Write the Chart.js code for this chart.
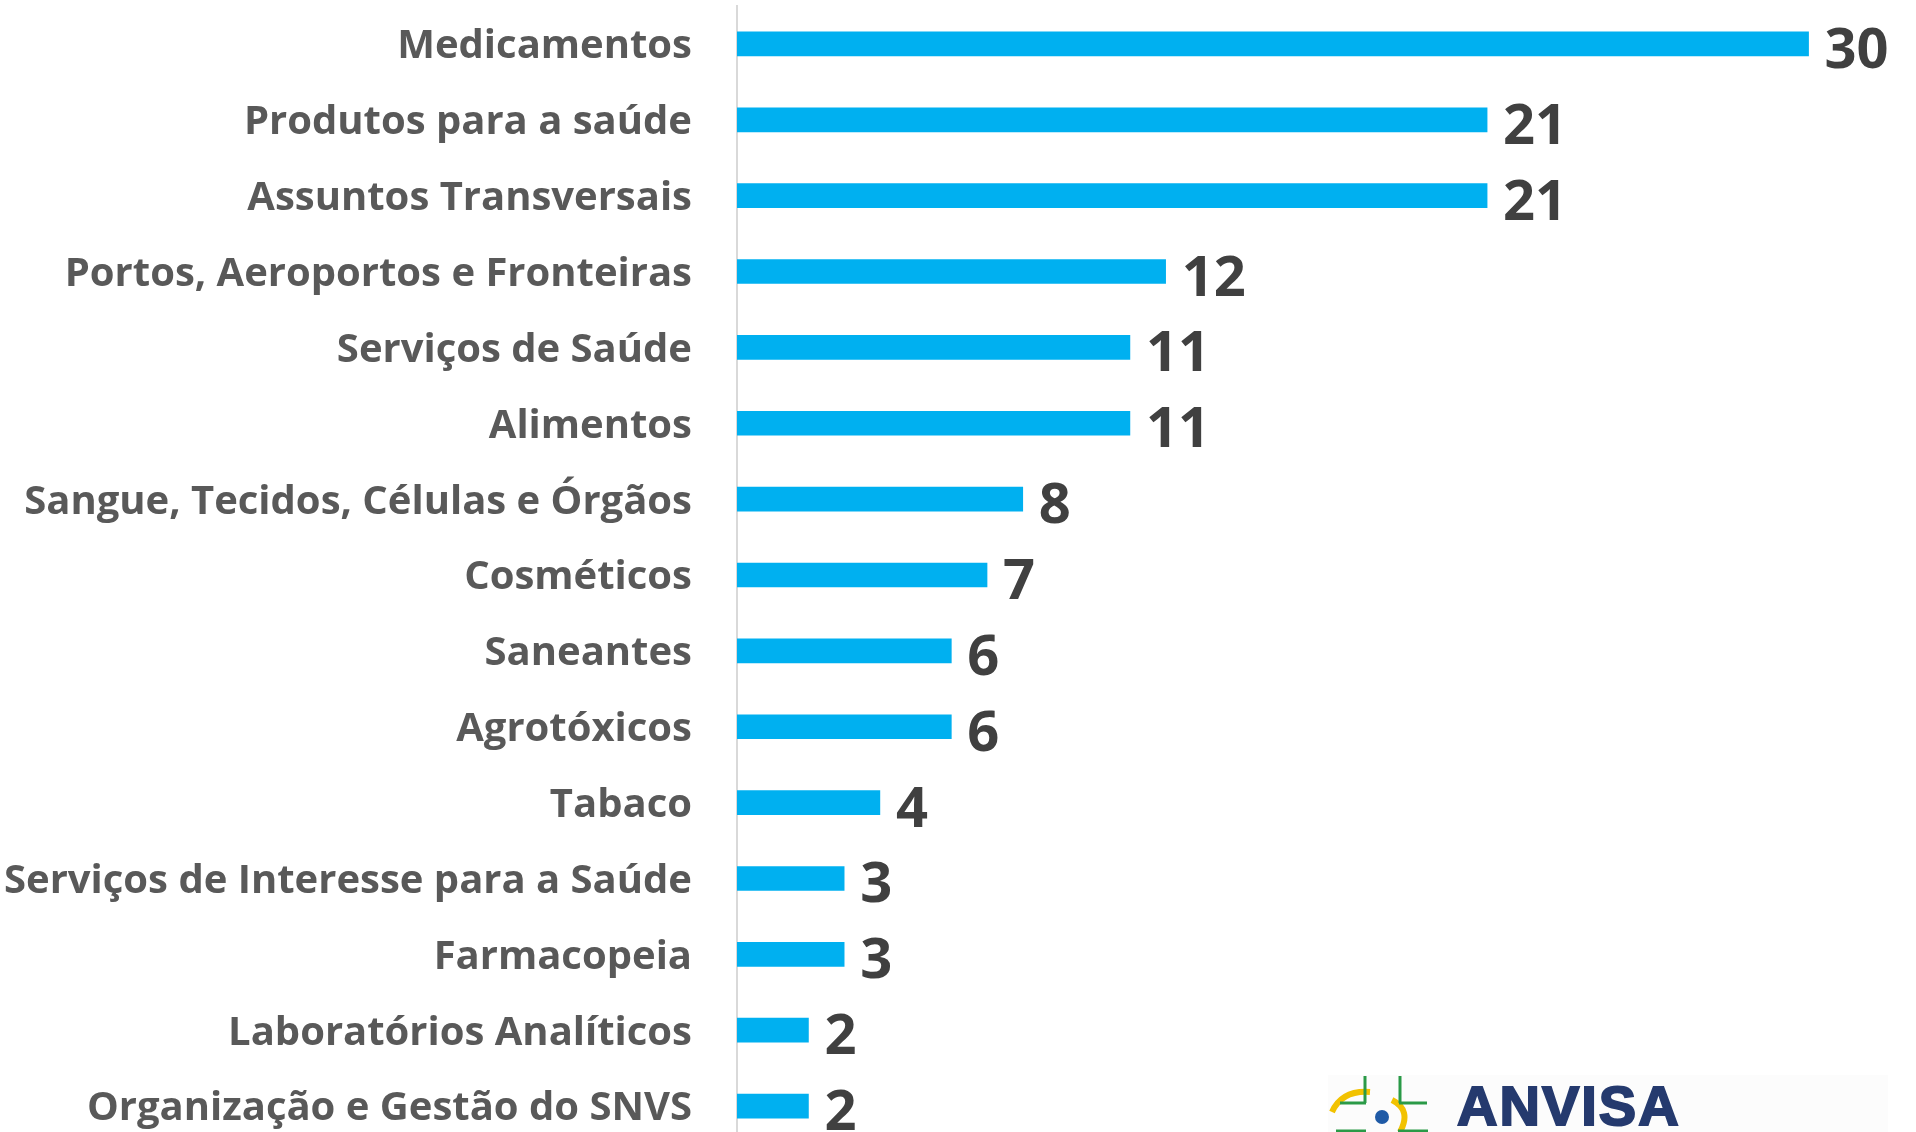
<!DOCTYPE html>
<html>
<head>
<meta charset="utf-8">
<script src="https://cdn.jsdelivr.net/npm/chart.js@4.4.0/dist/chart.umd.min.js"></script>
<style>
  html, body { margin: 0; padding: 0; background: #fff; overflow: hidden; }
  #wrap { position: relative; width: 1916px; height: 1132px; overflow: hidden; }
  #chart { position: absolute; left: 0; top: 0; }
  #logoBox { position: absolute; left: 1328px; top: 1075px; width: 560px; height: 57px; background: #fcfcfc; }
  #logoText { position: absolute; left: 1457px; top: 1073px; font: bold 56px "Liberation Sans", Arial, sans-serif; color: #253a6e; letter-spacing: 2px; -webkit-text-stroke: 2px #253a6e; }
  #logoMark { position: absolute; left: 1320px; top: 1060px; }
</style>
</head>
<body>
<div id="wrap">
  <canvas id="chart" width="1916" height="1150"></canvas>
  <div id="logoBox"></div>
  <svg id="logoMark" width="120" height="72" viewBox="0 0 120 72">
    <path d="M12 52 Q22 30 50 32" stroke="#f2c200" stroke-width="6" fill="none"/>
    <path d="M72 40 Q92 50 80 72" stroke="#f2c200" stroke-width="6" fill="none"/>
    <line x1="45" y1="16" x2="45" y2="43" stroke="#2a9a47" stroke-width="3"/>
    <line x1="80" y1="16" x2="80" y2="43" stroke="#2a9a47" stroke-width="3"/>
    <line x1="20" y1="43" x2="46" y2="43" stroke="#2a9a47" stroke-width="3"/>
    <line x1="79" y1="43" x2="107" y2="43" stroke="#2a9a47" stroke-width="3"/>
    <line x1="16" y1="71" x2="46" y2="71" stroke="#2a9a47" stroke-width="3"/>
    <line x1="78" y1="71" x2="108" y2="71" stroke="#2a9a47" stroke-width="3"/>
    <circle cx="62" cy="57" r="7" fill="#1f5aa6"/>
  </svg>
  <div id="logoText">ANVISA</div>
</div>
<script>
const categories = [
  'Medicamentos',
  'Produtos para a saúde',
  'Assuntos Transversais',
  'Portos, Aeroportos e Fronteiras',
  'Serviços de Saúde',
  'Alimentos',
  'Sangue, Tecidos, Células e Órgãos',
  'Cosméticos',
  'Saneantes',
  'Agrotóxicos',
  'Tabaco',
  'Serviços de Interesse para a Saúde',
  'Farmacopeia',
  'Laboratórios Analíticos',
  'Organização e Gestão do SNVS',
];
const values = [30, 21, 21, 12, 11, 11, 8, 7, 6, 6, 4, 3, 3, 2, 2];
const xRange = [0, 32];

// numbers at the end of each bar
const valueLabels = {
  id: 'valueLabels',
  afterDatasetsDraw(chart) {
    const ctx = chart.ctx;
    const meta = chart.getDatasetMeta(0);
    ctx.save();
    ctx.font = 'bold 56px "Open Sans"';
    ctx.fillStyle = '#404040';
    ctx.textAlign = 'left';
    ctx.textBaseline = 'alphabetic';
    meta.data.forEach((bar, i) => {
      ctx.fillText(values[i], bar.x + 16, bar.y + 24);
    });
    ctx.restore();
  },
};

const chart = new Chart(document.getElementById('chart'), {
  type: 'bar',
  data: {
    labels: categories,
    datasets: [
      {
        data: values,
        backgroundColor: '#00b0f0',
        barThickness: 24,
      },
    ],
  },
  options: {
    indexAxis: 'y',
    responsive: false,
    animation: false,
    layout: { padding: { top: 6, right: 36, bottom: 6, left: 0 } },
    plugins: {
      legend: { display: false },
      tooltip: { enabled: false },
    },
    scales: {
      x: {
        display: false,
        min: xRange[0],
        max: xRange[1],
      },
      y: {
        afterFit: (scale) => {
          scale.width = 737;
          scale.paddingTop = 0;
          scale.paddingBottom = 0;
        },
        grid: { display: false, drawTicks: false },
        border: { display: true, color: '#d9d9d9', width: 2 },
        ticks: {
          padding: 45,
          labelOffset: 3,
          color: '#595959',
          font: { family: 'Open Sans', weight: 'bold', size: 40 },
        },
      },
    },
  },
  plugins: [valueLabels],
});
</script>
</body>
</html>
